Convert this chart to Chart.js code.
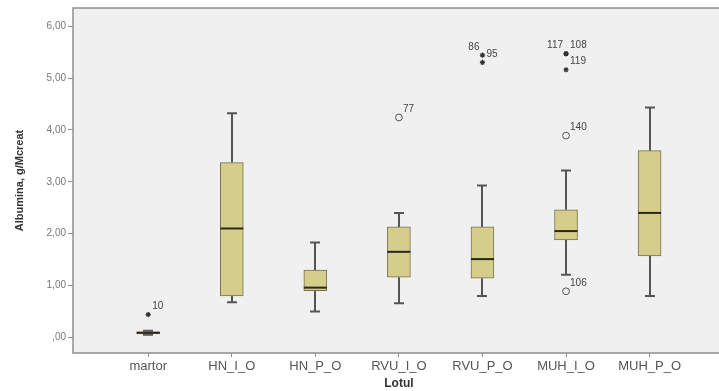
<!DOCTYPE html>
<html>
<head>
<meta charset="utf-8">
<script src="https://cdn.jsdelivr.net/npm/chart.js@4/dist/chart.umd.min.js"></script>
<style>
  html, body { margin: 0; padding: 0; background: #fff; overflow: hidden; }
  #wrap { width: 719px; height: 391px; overflow: hidden; }
  #wrap canvas { display: block; }
</style>
</head>
<body>
<div id="wrap"><canvas id="box" width="730" height="391"></canvas></div>
<script>
// ==================== DATA ====================
const groups = ['martor', 'HN_I_O', 'HN_P_O', 'RVU_I_O', 'RVU_P_O', 'MUH_I_O', 'MUH_P_O'];
const whiskerLow = [0.05, 0.68, 0.50, 0.66, 0.80, 1.21, 0.80];
const q1 = [0.07, 0.80, 0.90, 1.16, 1.14, 1.88, 1.57];
const median = [0.09, 2.10, 0.96, 1.65, 1.51, 2.05, 2.40];
const q3 = [0.11, 3.37, 1.30, 2.13, 2.13, 2.46, 3.60];
const whiskerHigh = [0.13, 4.32, 1.83, 2.40, 2.93, 3.22, 4.43];

// outliers (o) and extremes (*)
const outlierGroup = [0, 3, 4, 4, 5, 5, 5, 5, 5];
const outlierValue = [0.44, 4.24, 5.44, 5.30, 5.47, 5.47, 5.16, 3.89, 0.89];
const outlierId = ['10', '77', '86', '95', '117', '108', '119', '140', '106'];
const outlierStar = [true, false, true, true, true, true, true, false, false];
const outlierLeft = [false, false, true, false, true, false, false, false, false];

const yTicks = [0, 1, 2, 3, 4, 5, 6];

const fmt = v => (v === 0 ? ',00' : v.toFixed(2).replace('.', ','));

// ==================== EXTRA DRAWING ====================
const boxExtras = {
  id: 'boxExtras',
  beforeDraw(chart) {
    const { ctx, chartArea: a } = chart;
    ctx.save();
    ctx.fillStyle = '#f0f0f0';
    ctx.fillRect(a.left, a.top, a.right - a.left, a.bottom - a.top);
    ctx.restore();
  },
  beforeDatasetsDraw(chart) {
    // whiskers
    const { ctx, scales: { x, y } } = chart;
    ctx.save();
    ctx.strokeStyle = '#555';
    ctx.lineWidth = 2;
    groups.forEach((g, i) => {
      const px = Math.round(x.getPixelForValue(i));
      ctx.beginPath();
      ctx.moveTo(px, y.getPixelForValue(whiskerLow[i]));
      ctx.lineTo(px, y.getPixelForValue(q1[i]));
      ctx.moveTo(px, y.getPixelForValue(q3[i]));
      ctx.lineTo(px, y.getPixelForValue(whiskerHigh[i]));
      [whiskerLow[i], whiskerHigh[i]].forEach(v => {
        const py = y.getPixelForValue(v);
        ctx.moveTo(px - 5, py);
        ctx.lineTo(px + 5, py);
      });
      ctx.stroke();
    });
    ctx.restore();
  },
  afterDatasetsDraw(chart) {
    const { ctx, chartArea: a, scales: { x, y } } = chart;
    ctx.save();
    // medians
    ctx.strokeStyle = '#2a2818';
    ctx.lineWidth = 2;
    groups.forEach((g, i) => {
      const px = x.getPixelForValue(i);
      const py = y.getPixelForValue(median[i]);
      ctx.beginPath();
      ctx.moveTo(px - 11.5, py);
      ctx.lineTo(px + 11.5, py);
      ctx.stroke();
    });
    // outlier labels
    ctx.fillStyle = '#444';
    ctx.font = '10px "Liberation Sans", Arial, sans-serif';
    ctx.textBaseline = 'middle';
    outlierId.forEach((id, k) => {
      const px = x.getPixelForValue(outlierGroup[k]);
      const py = y.getPixelForValue(outlierValue[k]) - 8;
      if (outlierLeft[k]) {
        ctx.textAlign = 'right';
        ctx.fillText(id, px - 3, py);
      } else {
        ctx.textAlign = 'left';
        ctx.fillText(id, px + 4, py);
      }
    });
    // frame
    ctx.strokeStyle = '#8f8f8f';
    ctx.lineWidth = 1.5;
    ctx.strokeRect(a.left, a.top, a.right - a.left, a.bottom - a.top);
    ctx.restore();
  }
};

// ==================== CHART ====================
new Chart(document.getElementById('box'), {
  type: 'bar',
  data: {
    datasets: [
      {
        type: 'bar',
        data: groups.map((g, i) => ({ x: i, y: [q1[i], q3[i]] })),
        backgroundColor: '#d5cd8c',
        borderColor: '#77714a',
        borderWidth: 1,
        borderSkipped: false,
        barThickness: 23
      },
      {
        type: 'scatter',
        data: outlierValue.map((v, k) => ({ x: outlierGroup[k], y: v })),
        pointStyle: outlierStar.map(s => (s ? 'star' : 'circle')),
        pointRadius: outlierStar.map(s => (s ? 2.6 : 3.4)),
        backgroundColor: 'rgba(0,0,0,0)',
        borderColor: outlierStar.map(s => (s ? '#333' : '#555')),
        borderWidth: outlierStar.map(s => (s ? 1.2 : 1))
      }
    ]
  },
  options: {
    responsive: false,
    animation: false,
    layout: { padding: { top: 4, right: 4, left: 0, bottom: 0 } },
    plugins: { legend: { display: false }, tooltip: { enabled: false } },
    scales: {
      x: {
        type: 'linear',
        offset: false,
        min: -0.9,
        max: 6.9,
        afterBuildTicks: s => { s.ticks = groups.map((g, i) => ({ value: i })); },
        afterFit: s => { s.height = 38; },
        grid: { offset: false, drawOnChartArea: false, tickLength: 4, color: '#8f8f8f' },
        border: { display: false },
        ticks: {
          autoSkip: false,
          maxRotation: 0,
          padding: 2,
          color: '#555',
          font: { family: '"Liberation Sans", Arial, sans-serif', size: 13 },
          callback: v => groups[v]
        },
        title: {
          display: true,
          text: 'Lotul',
          color: '#333',
          padding: { top: 0, bottom: 0 },
          font: { family: '"Liberation Sans", Arial, sans-serif', size: 12, weight: 'bold' }
        }
      },
      y: {
        min: -0.3,
        max: 6.35,
        afterBuildTicks: s => { s.ticks = yTicks.map(v => ({ value: v })); },
        afterFit: s => { s.width = 73; },
        grid: { drawOnChartArea: false, tickLength: 5, color: '#8f8f8f' },
        border: { display: false },
        ticks: {
          padding: 2,
          color: '#777',
          font: { family: '"Liberation Sans", Arial, sans-serif', size: 10 },
          callback: v => fmt(v)
        },
        title: {
          display: true,
          text: 'Albumina, g/Mcreat',
          color: '#333',
          padding: { top: 13, bottom: 0 },
          font: { family: '"Liberation Sans", Arial, sans-serif', size: 11, weight: 'bold' }
        }
      }
    }
  },
  plugins: [boxExtras]
});
</script>
</body>
</html>
